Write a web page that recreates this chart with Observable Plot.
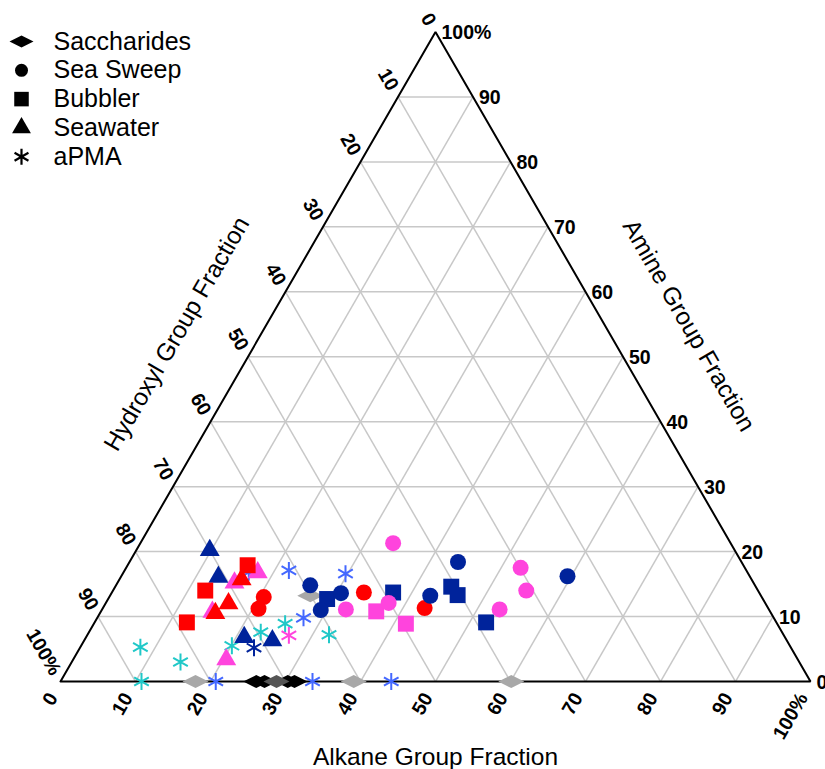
<!DOCTYPE html>
<html><head><meta charset="utf-8">
<script src="https://cdn.jsdelivr.net/npm/d3@7"></script>
<script src="https://cdn.jsdelivr.net/npm/@observablehq/plot@0.6"></script>
<style>
body{margin:0;background:#fff}
#chart{width:825px;height:769px}
</style>
</head><body><div id="chart"></div>
<script>
// Ternary values in percent: [alkane, hydroxyl, amine, group]
const saccharides = [
  [18.0, 82.0, 0, "F"], [26.7, 60.1, 13.2, "F"], [39.1, 60.9, 0, "F"], [60.1, 39.9, 0, "F"],
  [26.1, 73.9, 0, "H"], [27.2, 72.8, 0, "H"], [30.3, 69.7, 0, "H"], [31.2, 68.8, 0, "H"],
  [28.8, 71.2, 0, "G"]
];
const aPMA = [
  [8.0, 86.7, 5.3, "D"], [10.8, 89.2, 0, "D"], [14.5, 82.5, 3.0, "D"], [20.1, 74.4, 5.5, "D"],
  [22.9, 69.5, 7.6, "D"], [25.5, 65.6, 8.9, "D"], [32.2, 60.6, 7.2, "D"],
  [16.7, 66.5, 16.8, "E"], [21.9, 61.0, 17.1, "E"], [29.7, 53.7, 16.6, "E"], [27.5, 62.7, 9.8, "E"],
  [20.7, 79.3, 0, "E"], [33.6, 66.4, 0, "E"], [44.1, 55.9, 0, "E"],
  [23.2, 71.6, 5.2, "C"], [26.9, 66.0, 7.1, "B"]
];
const seawater = [
  [9.8, 70.0, 20.2, "C"], [13.0, 70.9, 16.1, "C"], [21.1, 72.1, 6.8, "C"], [25.1, 68.6, 6.3, "C"],
  [15.6, 69.2, 15.2, "B"], [17.9, 65.3, 16.8, "B"], [14.9, 74.4, 10.7, "B"], [20.4, 76.2, 3.4, "B"],
  [16.3, 68.0, 15.7, "A"], [16.4, 71.6, 12.0, "A"], [15.4, 74.1, 10.5, "A"]
];
const bubbler = [
  [36.7, 52.5, 10.8, "B"], [41.6, 49.5, 8.9, "B"],
  [16.0, 66.1, 17.9, "A"], [12.3, 73.7, 14.0, "A"], [12.3, 78.6, 9.1, "A"],
  [29.2, 58.1, 12.7, "C"], [37.5, 48.8, 13.7, "C"], [44.8, 40.6, 14.6, "C"], [46.3, 40.4, 13.3, "C"], [52.2, 38.7, 9.1, "C"]
];
const seaSweep = [
  [33.7, 45.0, 21.3, "B"], [32.5, 56.4, 11.1, "B"], [37.7, 50.2, 12.1, "B"], [52.6, 29.9, 17.5, "B"], [55.1, 30.9, 14.0, "B"], [53.0, 35.9, 11.1, "B"],
  [20.8, 68.0, 11.2, "A"], [20.6, 66.4, 13.0, "A"], [33.6, 52.7, 13.7, "A"], [42.9, 45.8, 11.3, "A"],
  [25.9, 59.3, 14.8, "C"], [30.6, 55.8, 13.6, "C"], [29.2, 59.8, 11.0, "C"], [42.7, 44.1, 13.2, "C"], [43.8, 37.8, 18.4, "C"], [59.5, 24.3, 16.2, "C"]
];
const ticks = [0, 10, 20, 30, 40, 50, 60, 70, 80, 90, 100];
const tickLabels = ["0", "10", "20", "30", "40", "50", "60", "70", "80", "90", "100%"];
const gridTicks = [10, 20, 30, 40, 50, 60, 70, 80, 90];
const legendLabels = ["Saccharides", "Sea Sweep", "Bubbler", "Seawater", "aPMA"];
const groups = ["A", "B", "C", "D", "E", "F", "G", "H"];
const palette = ["#ff0000", "#ff44dd", "#00239b", "#20c8c8", "#4468ff", "#a8a8a8", "#555555", "#000000"];

const S3 = Math.sqrt(3) / 2;
function proj(d) {
  const s = d[0] + d[1] + d[2];
  return {x: (d[0] + d[2] / 2) / s, y: (d[2] / s) * S3, group: d[3]};
}
const diamond = {
  draw(ctx, size) {
    const r = Math.sqrt(size / Math.PI);
    ctx.moveTo(-r, 0); ctx.lineTo(0, -r * 0.5); ctx.lineTo(r, 0); ctx.lineTo(0, r * 0.5); ctx.closePath();
  }
};

const grid = [];
for (const t of gridTicks) {
  const pairs = [
    [proj([0, 100 - t, t]), proj([100 - t, 0, t])],
    [proj([t, 100 - t, 0]), proj([t, 0, 100 - t])],
    [proj([100 - t, t, 0]), proj([0, t, 100 - t])]
  ];
  for (const [a, b] of pairs) grid.push({x1: a.x, y1: a.y, x2: b.x, y2: b.y});
}
const border = [proj([0, 100, 0]), proj([100, 0, 0]), proj([0, 0, 100]), proj([0, 100, 0])];

const bottomT = ticks.map((t, i) => ({...proj([t, 100 - t, 0]), label: tickLabels[i]}));
const leftT = ticks.map((t, i) => ({...proj([0, t, 100 - t]), label: tickLabels[i]}));
const rightT = ticks.map((t, i) => ({...proj([100 - t, 0, t]), label: tickLabels[i]}));

const tickStyle = {fontWeight: "bold", fontSize: 19.5, fill: "black"};
const legendSymbols = [diamond, "circle", "square", "triangle", "asterisk"];
const legendR = [12, 6.5, 8.2, 7, 7.6];
const legendMarks = [];
legendLabels.forEach((lab, i) => {
  const dy = 9.5 + 28.8 * i;
  const sym = legendSymbols[i];
  legendMarks.push(Plot.dot([0], sym === "asterisk"
    ? {frameAnchor: "top-left", dx: -39, dy, symbol: sym, r: legendR[i], stroke: "black", strokeWidth: 2.2}
    : {frameAnchor: "top-left", dx: -39, dy, symbol: sym, r: legendR[i], fill: "black"}));
  legendMarks.push(Plot.text([lab], {frameAnchor: "top-left", dx: -7, dy, text: d => d, textAnchor: "start", lineAnchor: "middle", fontSize: 25, fill: "black"}));
});

const P = (arr) => arr.map(proj);

const chart = Plot.plot({
  width: 825,
  height: 769,
  marginLeft: 60,
  marginRight: 15,
  marginTop: 31.5,
  marginBottom: 88,
  x: {domain: [0, 1], axis: null},
  y: {domain: [0, S3], axis: null},
  color: {type: "ordinal", domain: groups, range: palette},
  style: {fontFamily: "'Liberation Sans', Arial, sans-serif", background: "white", overflow: "visible"},
  marks: [
    Plot.link(grid, {x1: "x1", y1: "y1", x2: "x2", y2: "y2", stroke: "#c8c8c8", strokeWidth: 1.5}),
    Plot.line(border, {x: "x", y: "y", stroke: "black", strokeWidth: 2, strokeLinejoin: "miter"}),
    Plot.text(bottomT, {x: "x", y: "y", text: "label", rotate: -60, textAnchor: "end", dx: -7.5, dy: 13, ...tickStyle}),
    Plot.text(leftT, {x: "x", y: "y", text: "label", rotate: 60, textAnchor: "end", dx: -4.5, dy: -7.8, ...tickStyle}),
    Plot.text(rightT, {x: "x", y: "y", text: "label", textAnchor: "start", dx: 6, dy: 1, ...tickStyle}),
    Plot.text(["Alkane Group Fraction"], {x: 0.5, y: 0, text: d => d, dy: 76, fontSize: 24.5, fill: "black"}),
    Plot.text(["Hydroxyl Group Fraction"], {x: 0.2395, y: 0.4148, text: d => d, rotate: -60, dx: -63.2, dy: -36.5, fontSize: 24.5, fill: "black"}),
    Plot.text(["Amine Group Fraction"], {x: 0.754, y: 0.426, text: d => d, rotate: 60, dx: 62.8, dy: -36.3, fontSize: 24.5, fill: "black"}),
    Plot.dot(P(saccharides), {x: "x", y: "y", fill: "group", symbol: diamond, r: 13}),
    Plot.dot(P(aPMA), {x: "x", y: "y", stroke: "group", symbol: "asterisk", r: 8, strokeWidth: 2}),
    Plot.dot(P(seawater), {x: "x", y: "y", fill: "group", symbol: "triangle", r: 7.4}),
    Plot.dot(P(bubbler), {x: "x", y: "y", fill: "group", symbol: "square", r: 9}),
    Plot.dot(P(seaSweep), {x: "x", y: "y", fill: "group", symbol: "circle", r: 8}),
    ...legendMarks
  ]
});
document.getElementById("chart").append(chart);
</script>
</body></html>
